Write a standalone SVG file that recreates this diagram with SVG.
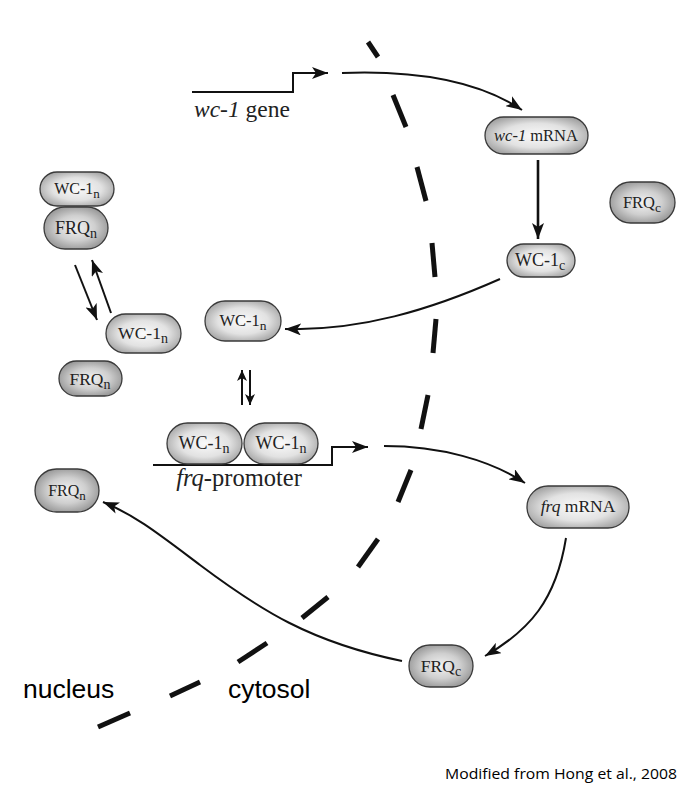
<svg xmlns="http://www.w3.org/2000/svg" width="697" height="792" viewBox="0 0 697 792">
<defs>
<radialGradient id="g" cx="50%" cy="50%" r="60%">
<stop offset="0" stop-color="#fafafa"/>
<stop offset="0.55" stop-color="#e2e2e2"/>
<stop offset="1" stop-color="#9c9c9c"/>
</radialGradient>
<radialGradient id="gd" cx="50%" cy="50%" r="60%">
<stop offset="0" stop-color="#f2f2f2"/>
<stop offset="0.5" stop-color="#cfcfcf"/>
<stop offset="1" stop-color="#8a8a8a"/>
</radialGradient>
<marker id="ah" markerUnits="userSpaceOnUse" markerWidth="18" markerHeight="12" refX="16" refY="6" orient="auto">
<path d="M0,0 L16,6 L0,12 L4,6 z" fill="#111"/>
</marker>
<marker id="ahs" markerUnits="userSpaceOnUse" markerWidth="12" markerHeight="10" refX="11" refY="5" orient="auto">
<path d="M0,0 L11,5 L0,10 L3,5 z" fill="#111"/>
</marker>
</defs>
<style>
.pill{fill:url(#g);stroke:#3a3a3a;stroke-width:1.3}
.pd{fill:url(#gd)}
.t{font-family:"Liberation Serif","Times New Roman",serif;fill:#222;text-anchor:middle}
.c{fill:none;stroke:#111;stroke-width:2}
.dash{stroke:#111;stroke-width:5;stroke-linecap:butt}
.lbl{font-family:"Liberation Sans",Arial,sans-serif;fill:#000}
</style>
<rect width="697" height="792" fill="#fff"/>

<g id="membrane">
<line class="dash" x1="368" y1="42" x2="378" y2="57"/>
<line class="dash" x1="393" y1="95" x2="406" y2="127"/>
<line class="dash" x1="417" y1="167" x2="426" y2="201"/>
<line class="dash" x1="432" y1="243" x2="435" y2="277"/>
<line class="dash" x1="436" y1="319" x2="433" y2="353"/>
<line class="dash" x1="428" y1="395" x2="421" y2="429"/>
<line class="dash" x1="411" y1="470" x2="398" y2="502"/>
<line class="dash" x1="378" y1="539" x2="358" y2="567"/>
<line class="dash" x1="328" y1="597" x2="302" y2="618"/>
<line class="dash" x1="267" y1="643" x2="238" y2="662"/>
<line class="dash" x1="200" y1="682" x2="170" y2="696"/>
<line class="dash" x1="130" y1="713" x2="98" y2="727"/>
</g>

<g id="connectors">
<polyline class="c" points="192,92 293,92 293,73 328,73" marker-end="url(#ah)"/>
<path class="c" d="M342,73 C420,70 480,82 522,110" marker-end="url(#ah)"/>
<line class="c" x1="538" y1="160" x2="538" y2="239" style="stroke-width:2.6" marker-end="url(#ah)"/>
<path class="c" d="M500,279 C430,310 360,331 285,329" marker-end="url(#ah)"/>
<line class="c" x1="75" y1="265" x2="97" y2="320" marker-end="url(#ah)"/>
<line class="c" x1="111" y1="313" x2="92" y2="260" marker-end="url(#ah)"/>
<line class="c" x1="242" y1="405" x2="242" y2="370" marker-end="url(#ahs)"/>
<line class="c" x1="250" y1="370" x2="250" y2="405" marker-end="url(#ahs)"/>
<polyline class="c" points="153,465 332,465 332,447 368,447" marker-end="url(#ah)"/>
<path class="c" d="M384,446 C440,446 490,460 525,483" marker-end="url(#ah)"/>
<path class="c" d="M566,538 C556,600 530,630 485,656" marker-end="url(#ah)"/>
<path class="c" d="M402,661 C310,642 260,610 200,565 C160,535 135,515 103,502" marker-end="url(#ah)"/>
</g>

<g id="wc1-gene-label">
<text x="194" y="117" style="font-family:'Liberation Serif','Times New Roman',serif;font-size:23.5px;fill:#222"><tspan font-style="italic">wc-1</tspan> gene</text>
</g>
<g id="frq-promoter-label">
<text x="239" y="486" class="t" style="font-size:24.5px"><tspan font-style="italic">frq</tspan>-promoter</text>
</g>

<g id="n-wc1n-a">
<rect class="pill" x="40" y="172" width="74" height="34" rx="17"/>
<text class="t" x="77" y="194" style="font-size:16px">WC-1<tspan font-size="13" dy="4">n</tspan></text>
</g>
<g id="n-frqn-a">
<rect class="pill pd" x="44" y="207" width="64" height="42" rx="21"/>
<text class="t" x="76" y="234" style="font-size:18px">FRQ<tspan font-size="14" dy="4">n</tspan></text>
</g>
<g id="n-wc1n-b">
<rect class="pill" x="106" y="314" width="75" height="39" rx="19.5"/>
<text class="t" x="143" y="339" style="font-size:17.5px">WC-1<tspan font-size="14" dy="4">n</tspan></text>
</g>
<g id="n-frqn-b">
<rect class="pill pd" x="59" y="361" width="63" height="35" rx="17.5"/>
<text class="t" x="90" y="385" style="font-size:17.5px">FRQ<tspan font-size="14" dy="4">n</tspan></text>
</g>
<g id="n-wc1n-c">
<rect class="pill" x="205" y="301" width="76" height="40" rx="20"/>
<text class="t" x="243" y="326" style="font-size:16.5px">WC-1<tspan font-size="13.5" dy="4">n</tspan></text>
</g>
<g id="n-wc1n-d">
<rect class="pill" x="167" y="423" width="75" height="41" rx="20.5"/>
<text class="t" x="204" y="449" style="font-size:18px">WC-1<tspan font-size="14" dy="4">n</tspan></text>
</g>
<g id="n-wc1n-e">
<rect class="pill" x="244" y="423" width="74" height="41" rx="20.5"/>
<text class="t" x="281" y="449" style="font-size:18px">WC-1<tspan font-size="14" dy="4">n</tspan></text>
</g>
<g id="n-frqn-c">
<rect class="pill pd" x="35" y="469" width="64" height="43" rx="21.5"/>
<text class="t" x="67" y="496" style="font-size:16px">FRQ<tspan font-size="13" dy="4">n</tspan></text>
</g>
<g id="n-wc1-mrna">
<rect class="pill" x="485" y="117" width="103" height="37" rx="18.5"/>
<text class="t" x="536" y="141" style="font-size:16.5px"><tspan font-style="italic">wc-1</tspan> mRNA</text>
</g>
<g id="n-wc1c">
<rect class="pill" x="507" y="244" width="68" height="33" rx="16.5"/>
<text class="t" x="540" y="266" style="font-size:18px">WC-1<tspan font-size="14" dy="4">c</tspan></text>
</g>
<g id="n-frqc-a">
<rect class="pill pd" x="610" y="182" width="65" height="41" rx="20.5"/>
<text class="t" x="642" y="208" style="font-size:16.5px">FRQ<tspan font-size="13.5" dy="4">c</tspan></text>
</g>
<g id="n-frq-mrna">
<rect class="pill" x="527" y="486" width="102" height="42" rx="21"/>
<text class="t" x="578" y="512" style="font-size:17.5px"><tspan font-style="italic">frq</tspan> mRNA</text>
</g>
<g id="n-frqc-b">
<rect class="pill pd" x="409" y="645" width="64" height="42" rx="21"/>
<text class="t" x="441" y="672" style="font-size:17.5px">FRQ<tspan font-size="14" dy="4">c</tspan></text>
</g>

<g id="labels">
<text class="lbl" x="23" y="698" style="font-size:26.5px">nucleus</text>
<text class="lbl" x="228" y="698" style="font-size:26.5px">cytosol</text>
<text class="lbl" x="445" y="779" textLength="232" lengthAdjust="spacingAndGlyphs" style="font-family:'Open Sans','Liberation Sans',sans-serif;font-size:15px">Modified from Hong et al., 2008</text>
</g>
</svg>
